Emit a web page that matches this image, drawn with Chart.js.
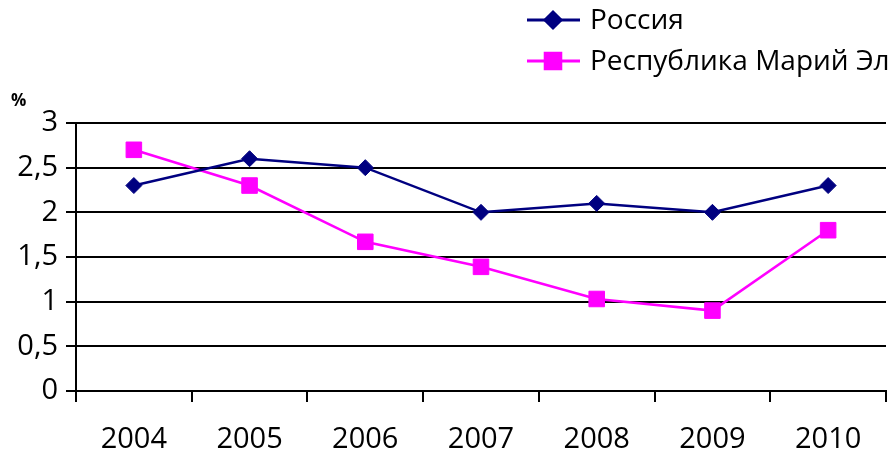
<!DOCTYPE html>
<html>
<head>
<meta charset="utf-8">
<script src="https://cdn.jsdelivr.net/npm/chart.js@4"></script>
<style>
  body { margin: 0; background: #fff; }
  #wrap { position: relative; width: 890px; height: 452px; }
  #pct { position: absolute; left: 11px; top: 88px; font: bold 17px "Open Sans", sans-serif; }
</style>
</head>
<body>
<div id="wrap">
  <canvas id="chart" width="890" height="452"></canvas>
  <div id="pct">%</div>
</div>
<script>
const years = ["2004", "2005", "2006", "2007", "2008", "2009", "2010"];
const russia = [2.3, 2.6, 2.5, 2.0, 2.1, 2.0, 2.3];
const mariEl = [2.7, 2.3, 1.67, 1.39, 1.03, 0.9, 1.8];
const seriesNames = ["Россия", "Республика Марий Эл"];

const FONT = '"Open Sans", sans-serif';

// points sit in the middle of the categories, they never overflow the plot
Chart.registry.getController("line").prototype.getMaxOverflow = function () {
  return 0;
};

// legend drawn by hand: line + marker, like the office chart
const lineLegend = {
  id: "lineLegend",
  afterDraw(chart) {
    const ctx = chart.ctx;
    const rows = [20, 61];
    chart.data.datasets.forEach((ds, i) => {
      const y = rows[i];
      ctx.save();
      ctx.strokeStyle = ds.borderColor;
      ctx.lineWidth = 3;
      ctx.beginPath();
      ctx.moveTo(527, y);
      ctx.lineTo(580, y);
      ctx.stroke();
      Chart.helpers.drawPoint(ctx, {
        pointStyle: ds.pointStyle,
        radius: ds.pointRadius,
        borderWidth: 1
      }, 553, y);
      ctx.fillStyle = ds.backgroundColor;
      ctx.fill();
      ctx.fillStyle = "#000";
      ctx.font = "28px " + FONT;
      ctx.textBaseline = "middle";
      ctx.fillText(ds.label, 590, y + 1);
      ctx.restore();
    });
  }
};

new Chart(document.getElementById("chart"), {
  type: "line",
  data: {
    labels: years,
    datasets: [
      {
        label: seriesNames[0],
        data: russia,
        borderColor: "#000080",
        backgroundColor: "#000080",
        borderWidth: 2.5,
        pointStyle: "rectRot",
        pointRadius: 8,
        pointBorderWidth: 1
      },
      {
        label: seriesNames[1],
        data: mariEl,
        borderColor: "#ff00ff",
        backgroundColor: "#ff00ff",
        borderWidth: 2.5,
        pointStyle: "rect",
        pointRadius: 11,
        pointBorderWidth: 1
      }
    ]
  },
  options: {
    responsive: false,
    animation: false,
    layout: { padding: { top: 123, right: 4, left: 0, bottom: 0 } },
    plugins: { legend: { display: false }, tooltip: { enabled: false } },
    scales: {
      x: {
        offset: true,
        grid: {
          offset: true,
          drawOnChartArea: false,
          color: "#000",
          lineWidth: 2,
          tickLength: 11
        },
        border: { color: "#000", width: 2 },
        ticks: { color: "#000", font: { family: FONT, size: 29 }, padding: 20, maxRotation: 0 },
        afterFit(s) { s.height = 61; }
      },
      y: {
        min: 0,
        max: 3,
        grid: { color: "#000", lineWidth: 2, tickLength: 10 },
        border: { color: "#000", width: 2 },
        ticks: {
          stepSize: 0.5,
          color: "#000",
          font: { family: FONT, size: 29 },
          padding: 8,
          callback: (v) => String(v).replace(".", ",")
        },
        afterFit(s) { s.width = 76; }
      }
    }
  },
  plugins: [lineLegend]
});
</script>
</body>
</html>
